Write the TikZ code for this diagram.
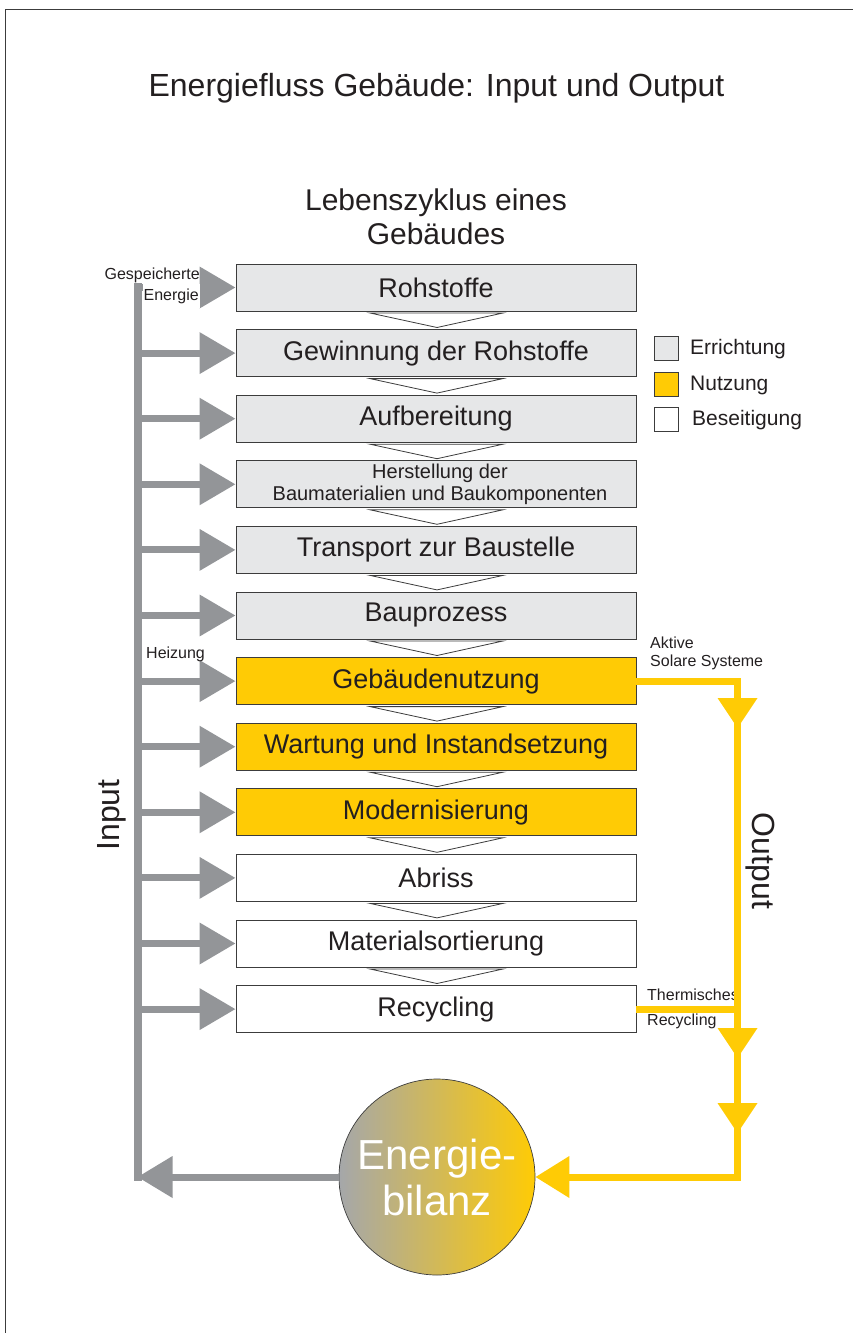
\documentclass[tikz,border=0pt]{standalone}
\usepackage{fontspec}
\setmainfont{Liberation Sans}
\usetikzlibrary{arrows.meta}
\definecolor{boxgray}{HTML}{E6E7E8}
\definecolor{nutz}{HTML}{FFCB05}
\definecolor{argray}{HTML}{939598}
\definecolor{txt}{HTML}{231F20}
\definecolor{edge}{HTML}{3C3C3C}
\definecolor{ballgray}{HTML}{A5A7AA}
\definecolor{ballmid}{HTML}{CDB880}
\begin{document}
\begin{tikzpicture}[x=1pt,y=-1pt,
  stage/.style={draw=edge, line width=0.9pt, minimum width=400pt, minimum height=47pt,
    inner sep=0pt, text=txt, font=\fontsize{27}{30}\selectfont},
  grstage/.style={stage, fill=boxgray},
  yestage/.style={stage, fill=nutz},
  wtstage/.style={stage, fill=white},
  chev/.style={draw=edge, line width=0.8pt, fill=white},
  garrow/.style={draw=argray, line width=7pt, -{Triangle[length=36pt,width=40pt]}},
  garrowL/.style={draw=argray, line width=7pt, -{Triangle[length=35pt,width=40pt]}},
  yline/.style={draw=nutz, line width=7pt, line join=miter},
  smalllab/.style={text=txt, inner sep=0pt, font=\fontsize{16}{18}\selectfont},
  leglab/.style={text=txt, inner sep=0pt, anchor=west, font=\fontsize{21}{24}\selectfont},
  legsq/.style={draw=edge, line width=0.8pt, minimum size=24pt, inner sep=0pt},
  biglab/.style={text=txt, inner sep=0pt, font=\fontsize{32}{36}\selectfont}
]
\useasboundingbox (0,0) rectangle (853,1333);
% frame
\draw[edge, line width=1.3pt] (5.5,1333) -- (5.5,9.5) -- (853,9.5);

% titles
\node[biglab] (title) at (436.5,88) {Energiefluss Gebäude: Input und Output};
\node[text=txt, inner sep=0pt, align=center, font=\fontsize{30}{34}\selectfont] (sub) at (436,217) {Lebenszyklus eines\\Gebäudes};

% stages
\node[grstage] (b1)  at (436,287.5)  {Rohstoffe};
\node[grstage] (b2)  at (436,353.1)  {Gewinnung der Rohstoffe};
\node[grstage] (b3)  at (436,418.7)  {Aufbereitung};
\node[grstage, align=center, font=\fontsize{20}{22}\selectfont] (b4) at (436,484.3) {\hspace{8pt}Herstellung der\\\hspace{8pt}Baumaterialien und Baukomponenten};
\node[grstage] (b5)  at (436,549.9)  {Transport zur Baustelle};
\node[grstage] (b6)  at (436,615.5)  {Bauprozess};
\node[yestage] (b7)  at (436,681.1)  {Gebäudenutzung};
\node[yestage] (b8)  at (436,746.7)  {Wartung und Instandsetzung};
\node[yestage] (b9)  at (436,812.3)  {Modernisierung};
\node[wtstage] (b10) at (436,877.9)  {Abriss};
\node[wtstage] (b11) at (436,943.5)  {Materialsortierung};
\node[wtstage] (b12) at (436,1009.1) {Recycling};

% chevrons between stages
\foreach \i in {0,...,10}{
  \pgfmathsetmacro\c{287.5+65.6*\i}
  \draw[chev] (370,\c+25.5) -- (503,\c+25.5) -- (437,\c+40) -- cycle;
}

% legend
\node[legsq, fill=boxgray] (l1) at (666,348.5) {};
\node[legsq, fill=nutz]    (l2) at (666,384)   {};
\node[legsq, fill=white]   (l3) at (666,419.5) {};
\node[leglab] (t1) at (690,349.5) {Errichtung};
\node[leglab] (t2) at (690,385)   {Nutzung};
\node[leglab] (t3) at (692,420.5) {Beseitigung};

% energy balance circle
\node[circle, draw=edge, line width=0.7pt, minimum size=196pt, inner sep=0pt,
  left color=ballgray, middle color=ballmid, right color=nutz,
  text=white, align=center, font=\fontsize{42}{46}\selectfont] (bal) at (437,1177) {Energie-\\bilanz};

% input bar and arrows
\coordinate (bartop) at (137.5,287);
\coordinate (barbot) at (137.5,1177);
\draw[argray, line width=8pt, line cap=rect] (bartop) -- (barbot);
\foreach \n in {b1,b2,b3,b4,b5,b6,b7,b8,b9,b10,b11,b12}{
  \draw[garrow] (\n.west -| bartop) -- (\n.west);
}
\draw[garrowL] (bal.west) -- (barbot);

% input labels
\node[smalllab, anchor=east] (gesp) at (200,275) {Gespeicherte};
\node[smalllab, anchor=east, fill=white, minimum height=24pt, inner xsep=1pt] (ener) at (200,296) {Energie};
\node[smalllab, anchor=west] (heiz) at (146,654) {Heizung};
\node[biglab, rotate=90] (inp) at (112,815) {Input};

% output labels
\node[smalllab, anchor=west] (akt) at (650,643) {Aktive};
\node[smalllab, anchor=west] (sol) at (650,662) {Solare Systeme};
\node[smalllab, anchor=west] (therm) at (647,995) {Thermisches};
\node[smalllab, anchor=west] (recy) at (647,1021) {Recycling};
\node[biglab, rotate=-90] (outp) at (760,861) {Output};

% output line
\coordinate (ytop) at (737.5,681.1);
\coordinate (ybot) at (737.5,1177);
\draw[yline, -{Triangle[length=34pt,width=40pt]}] (b7.east) -- (ytop) -- (ybot) -- (bal.east);
\draw[yline] (b12.east) -- (b12.east -| ytop);
\foreach \yy in {698,1028,1103}{
  \fill[nutz] (717.5,\yy) -- (757.5,\yy) -- (737.5,\yy+30) -- cycle;
}
\end{tikzpicture}
\end{document}
